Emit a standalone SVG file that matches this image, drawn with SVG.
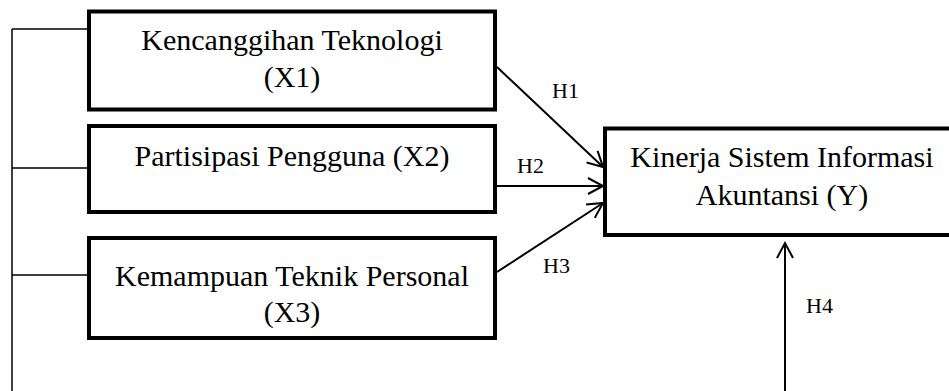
<svg xmlns="http://www.w3.org/2000/svg" width="949" height="391" viewBox="0 0 949 391">
<style>
  .box { fill: #fff; stroke: #000; stroke-width: 4; }
  .t { font-family: 'Liberation Serif', 'DejaVu Serif', serif; font-size: 30px; fill: #000; text-anchor: middle; }
  .lbl { font-family: 'Liberation Serif', 'DejaVu Serif', serif; font-size: 22px; fill: #000; }
  .con { stroke: #000; stroke-width: 2; fill: none; }
  .thin { stroke: #000; stroke-width: 1.5; fill: none; }
</style>
<defs>
  <marker id="arr" viewBox="0 0 18 18" markerWidth="18" markerHeight="18" refX="16" refY="9" orient="auto" markerUnits="userSpaceOnUse" overflow="visible">
    <path d="M1,1 L16,9 L1,17" fill="none" stroke="#000" stroke-width="2"/>
  </marker>
</defs>
<rect width="949" height="391" fill="#fff"/>
<g id="connectors">
  <path class="thin" d="M12,29 V391 M12,29 H89 M12,168 H89 M12,275 H89"/>
  <line class="con" x1="497" y1="67" x2="603" y2="167" marker-end="url(#arr)"/>
  <line class="con" x1="495" y1="186" x2="603" y2="186" marker-end="url(#arr)"/>
  <line class="con" x1="497" y1="272" x2="603" y2="203" marker-end="url(#arr)"/>
  <line class="con" x1="785" y1="391" x2="785" y2="243" marker-end="url(#arr)"/>
  <text class="lbl" x="552" y="98">H1</text>
  <text class="lbl" x="517" y="173">H2</text>
  <text class="lbl" x="543" y="273">H3</text>
  <text class="lbl" x="806" y="313">H4</text>
</g>
<g id="x1">
  <rect class="box" x="89" y="11.5" width="406" height="98"/>
  <text class="t" x="292" y="50">Kencanggihan Teknologi</text>
  <text class="t" x="292" y="87">(X1)</text>
</g>
<g id="x2">
  <rect class="box" x="89" y="126" width="406" height="86"/>
  <text class="t" x="292" y="166">Partisipasi Pengguna (X2)</text>
</g>
<g id="x3">
  <rect class="box" x="89" y="238" width="406" height="100"/>
  <text class="t" x="292" y="286">Kemampuan Teknik Personal</text>
  <text class="t" x="292" y="322">(X3)</text>
</g>
<g id="y">
  <rect class="box" x="605" y="128.5" width="355" height="106.5"/>
  <text class="t" x="782" y="167">Kinerja Sistem Informasi</text>
  <text class="t" x="782" y="205">Akuntansi (Y)</text>
</g>
</svg>
